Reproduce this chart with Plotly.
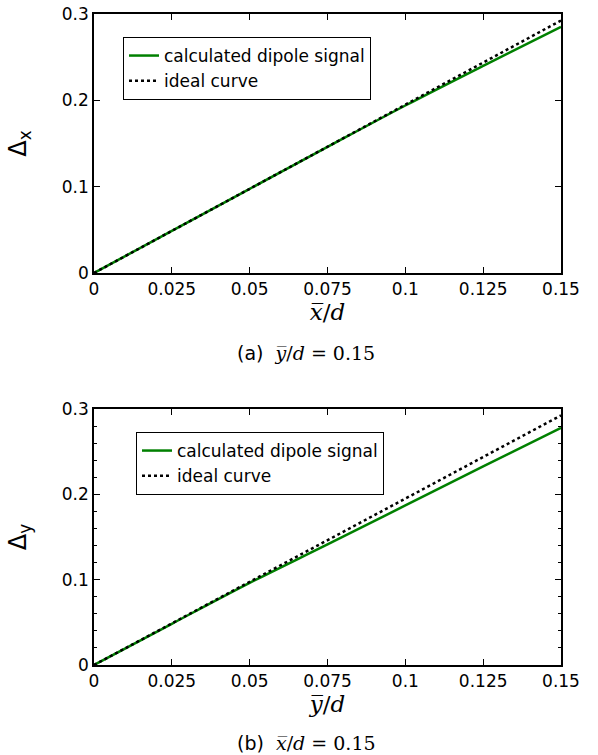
import plotly.graph_objects as go

# ---- data ----
pos = [0.0, 0.025, 0.05, 0.075, 0.1, 0.125, 0.15]
ideal = [0.0, 0.04875, 0.0975, 0.14625, 0.195, 0.24375, 0.2925]
dipole_a = [0.0, 0.0488, 0.0975, 0.1460, 0.1940, 0.2400, 0.2850]
dipole_b = [0.0, 0.0483, 0.0962, 0.1413, 0.1870, 0.2328, 0.2780]
xticks = [0, 0.025, 0.05, 0.075, 0.1, 0.125, 0.15]
xticklabels = ["0", "0.025", "0.05", "0.075", "0.1", "0.125", "0.15"]
yticks = [0, 0.1, 0.2, 0.3]
yticklabels = ["0", "0.1", "0.2", "0.3"]

W, H = 598, 755
GREEN = "#008000"
SANS = "DejaVu Sans"
SERIF = "DejaVu Serif"

fig = go.Figure()
fig.add_trace(go.Scatter(x=pos, y=dipole_a, mode="lines", name="calculated dipole signal",
                         line=dict(color=GREEN, width=2.5, shape="spline"),
                         xaxis="x", yaxis="y", legend="legend"))
fig.add_trace(go.Scatter(x=pos, y=ideal, mode="lines", name="ideal curve",
                         line=dict(color="black", width=2.5, dash="dot"),
                         xaxis="x", yaxis="y", legend="legend"))
fig.add_trace(go.Scatter(x=pos, y=dipole_b, mode="lines", name="calculated dipole signal",
                         line=dict(color=GREEN, width=2.5, shape="spline"),
                         xaxis="x2", yaxis="y2", legend="legend2"))
fig.add_trace(go.Scatter(x=pos, y=ideal, mode="lines", name="ideal curve",
                         line=dict(color="black", width=2.5, dash="dot"),
                         xaxis="x2", yaxis="y2", legend="legend2"))

xdom = [94 / W, 561 / W]
ydom1 = [1 - 273 / H, 1 - 14 / H]
ydom2 = [1 - 665 / H, 1 - 409 / H]

common_x = dict(range=[0, 0.15], tickvals=xticks, ticktext=xticklabels,
                ticks="inside", ticklen=6, tickcolor="black", tickwidth=1.2,
                showline=True, linecolor="black", linewidth=1.5, mirror="allticks",
                showgrid=False, zeroline=False, domain=xdom, automargin=False,
                tickfont=dict(family=SANS, size=17, color="black"))
common_y = dict(range=[0, 0.3], tickvals=yticks, ticktext=yticklabels,
                ticks="inside", ticklen=6, tickcolor="black", tickwidth=1.2,
                showline=True, linecolor="black", linewidth=1.5, mirror="allticks",
                showgrid=False, zeroline=False, automargin=False,
                tickfont=dict(family=SANS, size=17, color="black"))

fig.update_layout(
    width=W, height=H,
    margin=dict(l=0, r=0, t=0, b=0),
    paper_bgcolor="white", plot_bgcolor="white",
    xaxis=dict(common_x, anchor="y",
               title=dict(text="<i>x̅</i>/<i>d</i>", standoff=4,
                          font=dict(family=SERIF, size=23, color="black"))),
    yaxis=dict(common_y, domain=ydom1, anchor="x",
               title=dict(text="Δ<sub>x</sub>", standoff=28,
                          font=dict(family=SANS, size=24, color="black"))),
    xaxis2=dict(common_x, anchor="y2",
                title=dict(text="<i>y̅</i>/<i>d</i>", standoff=4,
                           font=dict(family=SERIF, size=23, color="black"))),
    yaxis2=dict(common_y, domain=ydom2, anchor="x2",
                minor=dict(dtick=0.02, ticks="inside", ticklen=3, tickcolor="black", showgrid=False),
                title=dict(text="Δ<sub>y</sub>", standoff=28,
                           font=dict(family=SANS, size=24, color="black"))),
    legend=dict(x=123 / W, y=1 - 37 / H, xanchor="left", yanchor="top",
                bordercolor="black", borderwidth=1, bgcolor="white",
                font=dict(family=SANS, size=17, color="black"),
                itemwidth=30, tracegroupgap=0),
    legend2=dict(x=136 / W, y=1 - 432 / H, xanchor="left", yanchor="top",
                 bordercolor="black", borderwidth=1, bgcolor="white",
                 font=dict(family=SANS, size=17, color="black"),
                 itemwidth=30, tracegroupgap=0),
    showlegend=True,
)

cap_a = ('<span style="font-family:DejaVu Sans">(a)</span>  '
         '<i>y̅</i>/<i>d</i> = 0.15')
cap_b = ('<span style="font-family:DejaVu Sans">(b)</span>  '
         '<i>x̅</i>/<i>d</i> = 0.15')
fig.add_annotation(text=cap_a, x=306 / W, y=1 - 353 / H, xref="paper", yref="paper",
                   showarrow=False, xanchor="center", yanchor="middle",
                   font=dict(family=SERIF, size=19, color="black"))
fig.add_annotation(text=cap_b, x=306 / W, y=1 - 743 / H, xref="paper", yref="paper",
                   showarrow=False, xanchor="center", yanchor="middle",
                   font=dict(family=SERIF, size=19, color="black"))

fig.write_html("out.html", config={"displayModeBar": False},
               post_script="document.body.style.margin='0';document.body.style.overflow='hidden';")
